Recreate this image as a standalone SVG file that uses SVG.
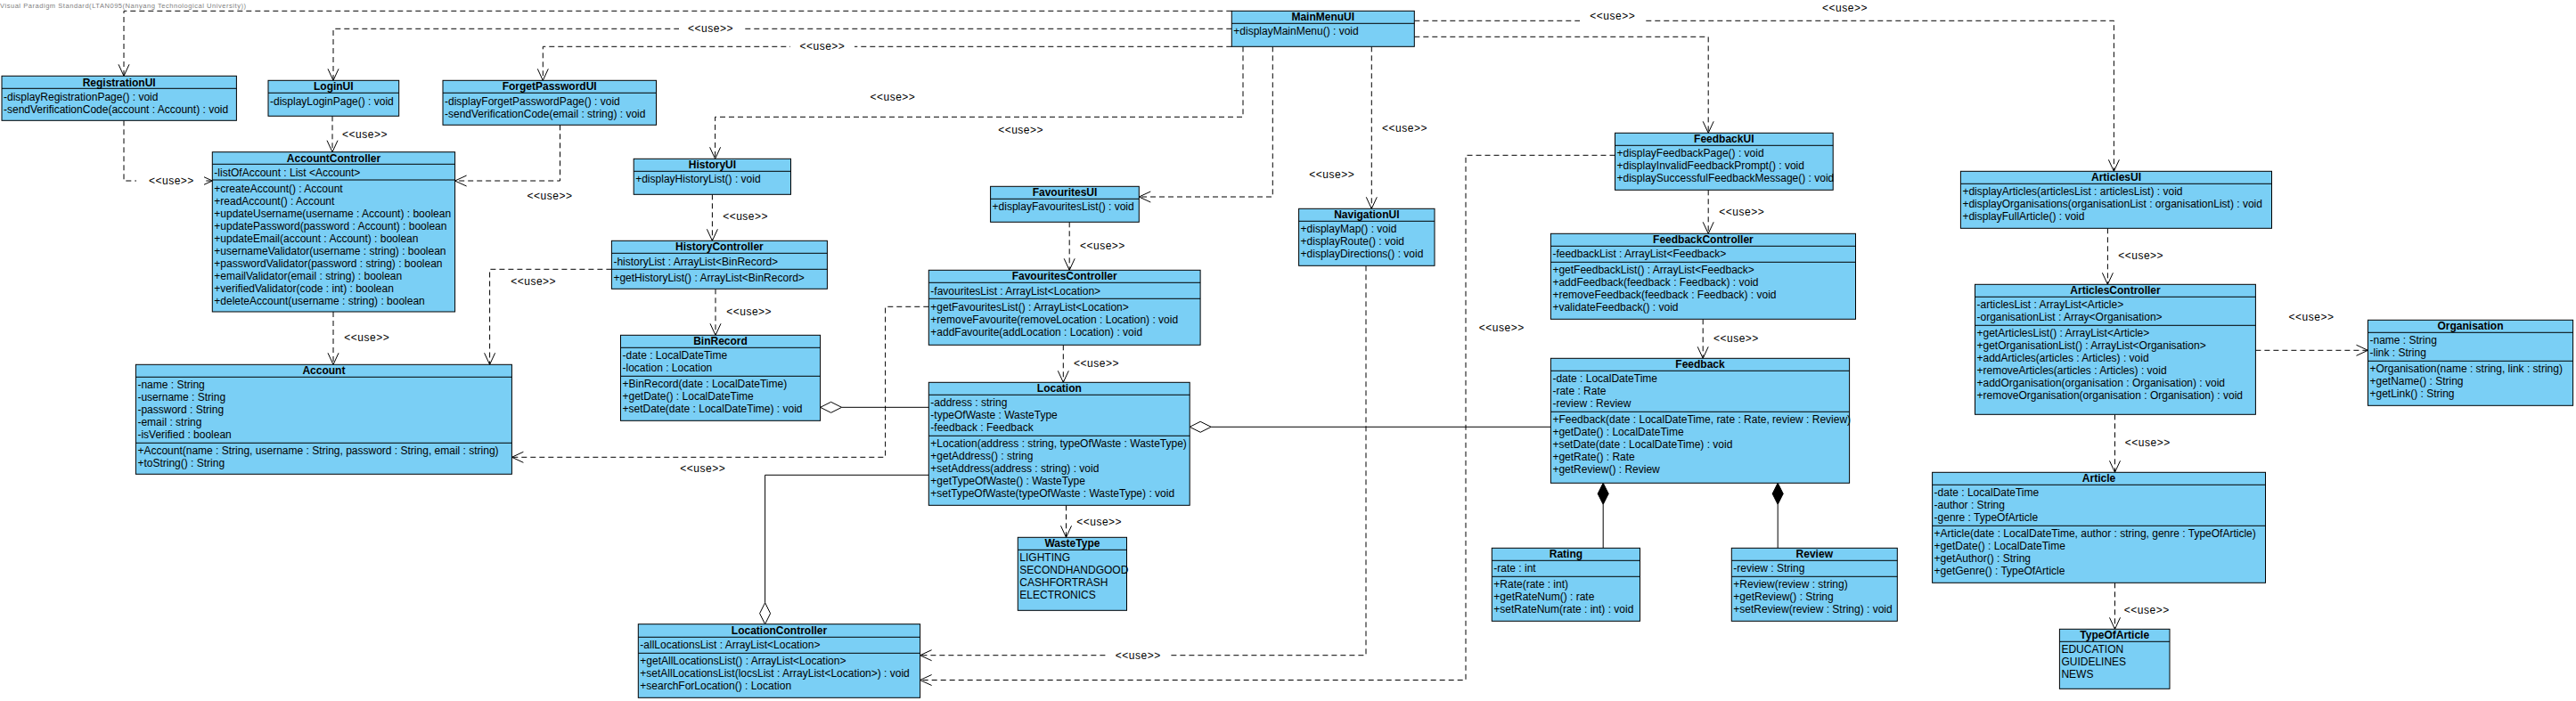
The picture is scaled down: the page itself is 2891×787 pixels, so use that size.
<svg xmlns="http://www.w3.org/2000/svg" width="2891" height="787" viewBox="0 0 2891 787">
<style>
.bg{fill:#ffffff}
.box{fill:#7acff5;stroke:#000;stroke-width:1}
.sep{fill:none;stroke:#000;stroke-width:1}
.t{font-family:"Liberation Sans",Arial,sans-serif;font-size:12px;fill:#000}
.ti{font-weight:bold;text-anchor:middle}
.dep{fill:none;stroke:#000;stroke-width:1;stroke-dasharray:6,4;marker-end:url(#arr)}
.sol{fill:none;stroke:#000;stroke-width:1}
.agg{fill:#fff;stroke:#000;stroke-width:1}
.comp{fill:#000;stroke:#000;stroke-width:1}
.lbl{text-anchor:middle;letter-spacing:0.5px}
.gap{fill:#fff}
.wm{font-family:"Liberation Sans",Arial,sans-serif;font-size:7.5px;fill:#808080}
</style>
<defs>
<marker id="arr" markerUnits="userSpaceOnUse" markerWidth="16" markerHeight="16" viewBox="0 0 16 16" refX="14" refY="8" orient="auto">
<path d="M1,2 L14,8 L1,14" fill="none" stroke="#000" stroke-width="1"/>
</marker>
</defs>
<rect class="bg" x="0" y="0" width="2891" height="787"/>
<text class="wm" x="0" y="9" textLength="276" lengthAdjust="spacing">Visual Paradigm Standard(LTAN095(Nanyang Technological University))</text>

<g id="connectors">
<!-- MainMenuUI dependencies -->
<path class="dep" d="M1382.3,12.3 H139 V85.3"/>
<path class="dep" d="M1382.3,32.3 H374 V90.3"/>
<path class="dep" d="M1382.3,52.3 H609.3 V90.3"/>
<path class="dep" d="M1395,52.3 V131.3 H802.6 V178.3"/>
<path class="dep" d="M1428.3,52.3 V221 H1278.3"/>
<path class="dep" d="M1539.3,52.3 V234.3"/>
<path class="dep" d="M1587.3,41.3 H1917.2 V149.3"/>
<path class="dep" d="M1587.3,23.3 H2372.4 V192.3"/>
<!-- account -->
<path class="dep" d="M139,135.3 V203 H238.3"/>
<path class="dep" d="M373,130.3 V170.7"/>
<path class="dep" d="M628.5,140.3 V203 H510.6"/>
<path class="dep" d="M374,350 V409.3"/>
<path class="dep" d="M686.4,302.3 H549.6 V409.3"/>
<!-- history -->
<path class="dep" d="M799.4,218.3 V270.3"/>
<path class="dep" d="M803,324.3 V376.3"/>
<!-- favourites -->
<path class="dep" d="M1200.2,249.3 V303.3"/>
<path class="dep" d="M1042.3,344.3 H993.6 V513.3 H574.4"/>
<path class="dep" d="M1193.3,387.3 V429.3"/>
<path class="dep" d="M1196.5,567.3 V603.3"/>
<!-- navigation / feedback to location controller -->
<path class="dep" d="M1533,298.3 V735.7 H1032.6"/>
<path class="dep" d="M1812.5,174.3 H1645 V763.5 H1032.6"/>
<!-- feedback -->
<path class="dep" d="M1917.2,213.3 V262.3"/>
<path class="dep" d="M1911.2,358.3 V402.3"/>
<!-- articles -->
<path class="dep" d="M2365.4,256.3 V319.3"/>
<path class="dep" d="M2531.4,393.3 H2657.5"/>
<path class="dep" d="M2373.5,465.3 V530.3"/>
<path class="dep" d="M2373.5,654.3 V706.3"/>
<!-- aggregations -->
<path class="sol" d="M944.6,457.3 H1042.3"/>
<polygon class="agg" points="920.6,457.3 932.6,451.3 944.6,457.3 932.6,463.3"/>
<path class="sol" d="M858.6,676.7 V533.3 H1042.3"/>
<polygon class="agg" points="858.6,700.7 852.6,688.7 858.6,676.7 864.6,688.7"/>
<path class="sol" d="M1359.2,479.3 H1740.4"/>
<polygon class="agg" points="1335.2,479.3 1347.2,473.3 1359.2,479.3 1347.2,485.3"/>
<!-- compositions -->
<path class="sol" d="M1799.2,566.3 V615.3"/>
<polygon class="comp" points="1799.2,542.3 1805.2,554.3 1799.2,566.3 1793.2,554.3"/>
<path class="sol" d="M1995.2,566.3 V615.3"/>
<polygon class="comp" points="1995.2,542.3 2001.2,554.3 1995.2,566.3 1989.2,554.3"/>
<!-- label gaps -->
<rect class="gap" x="762" y="25" width="72" height="14"/>
<rect class="gap" x="887" y="45" width="72" height="14"/>
<rect class="gap" x="1773" y="11" width="73" height="14"/>
<rect class="gap" x="153" y="196" width="76" height="14"/>
<rect class="gap" x="1241" y="729" width="72" height="14"/>
<!-- labels -->
<text class="t lbl" x="797.5" y="36.3">&lt;&lt;use&gt;&gt;</text>
<text class="t lbl" x="922.9" y="56.3">&lt;&lt;use&gt;&gt;</text>
<text class="t lbl" x="1001.9" y="113.3">&lt;&lt;use&gt;&gt;</text>
<text class="t lbl" x="1145.6" y="149.7">&lt;&lt;use&gt;&gt;</text>
<text class="t lbl" x="1494.8" y="199.7">&lt;&lt;use&gt;&gt;</text>
<text class="t lbl" x="1576.5" y="147.7">&lt;&lt;use&gt;&gt;</text>
<text class="t lbl" x="1809.8" y="21.7">&lt;&lt;use&gt;&gt;</text>
<text class="t lbl" x="2070.5" y="13.3">&lt;&lt;use&gt;&gt;</text>
<text class="t lbl" x="192.4" y="207">&lt;&lt;use&gt;&gt;</text>
<text class="t lbl" x="409.5" y="154.7">&lt;&lt;use&gt;&gt;</text>
<text class="t lbl" x="617" y="224">&lt;&lt;use&gt;&gt;</text>
<text class="t lbl" x="411.8" y="383.3">&lt;&lt;use&gt;&gt;</text>
<text class="t lbl" x="598.7" y="320.3">&lt;&lt;use&gt;&gt;</text>
<text class="t lbl" x="836.6" y="247.3">&lt;&lt;use&gt;&gt;</text>
<text class="t lbl" x="840.7" y="354.3">&lt;&lt;use&gt;&gt;</text>
<text class="t lbl" x="1237.4" y="280.3">&lt;&lt;use&gt;&gt;</text>
<text class="t lbl" x="788.8" y="529.7">&lt;&lt;use&gt;&gt;</text>
<text class="t lbl" x="1230.5" y="412.3">&lt;&lt;use&gt;&gt;</text>
<text class="t lbl" x="1233.7" y="589.7">&lt;&lt;use&gt;&gt;</text>
<text class="t lbl" x="1277.3" y="739.7">&lt;&lt;use&gt;&gt;</text>
<text class="t lbl" x="1685.3" y="372.3">&lt;&lt;use&gt;&gt;</text>
<text class="t lbl" x="1954.8" y="242.3">&lt;&lt;use&gt;&gt;</text>
<text class="t lbl" x="1948.4" y="383.7">&lt;&lt;use&gt;&gt;</text>
<text class="t lbl" x="2402.7" y="291.3">&lt;&lt;use&gt;&gt;</text>
<text class="t lbl" x="2594" y="359.7">&lt;&lt;use&gt;&gt;</text>
<text class="t lbl" x="2410.3" y="501.3">&lt;&lt;use&gt;&gt;</text>
<text class="t lbl" x="2409.3" y="689.3">&lt;&lt;use&gt;&gt;</text>
</g>

<g id="RegistrationUI">
<rect class="box" x="2" y="85.3" width="263.4" height="50"/>
<path class="sep" d="M2,99.3 H265.4"/>
<text class="t ti" x="133.7" y="96.5">RegistrationUI</text>
<text class="t" x="4" y="112.5">-displayRegistrationPage() : void</text>
<text class="t" x="4" y="126.5">-sendVerificationCode(account : Account) : void</text>
</g>

<g id="LoginUI">
<rect class="box" x="301" y="90.3" width="146.7" height="40"/>
<path class="sep" d="M301,104.3 H447.7"/>
<text class="t ti" x="374.3" y="101.3">LoginUI</text>
<text class="t" x="303" y="117.5">-displayLoginPage() : void</text>
</g>

<g id="ForgetPasswordUI">
<rect class="box" x="497" y="90.3" width="239.5" height="50"/>
<path class="sep" d="M497,104.3 H736.5"/>
<text class="t ti" x="616.7" y="101.3">ForgetPasswordUI</text>
<text class="t" x="499" y="117.5">-displayForgetPasswordPage() : void</text>
<text class="t" x="499" y="131.5">-sendVerificationCode(email : string) : void</text>
</g>

<g id="MainMenuUI">
<rect class="box" x="1382.3" y="12.3" width="205" height="40"/>
<path class="sep" d="M1382.3,26.3 H1587.3"/>
<text class="t ti" x="1484.8" y="23.3">MainMenuUI</text>
<text class="t" x="1384.3" y="39.3">+displayMainMenu() : void</text>
</g>

<g id="AccountController">
<rect class="box" x="238.3" y="170.7" width="272.3" height="179.3"/>
<path class="sep" d="M238.3,184.3 H510.6 M238.3,202 H510.6"/>
<text class="t ti" x="374.5" y="181.7">AccountController</text>
<text class="t" x="240.3" y="197.5">-listOfAccount : List &lt;Account&gt;</text>
<text class="t" x="240.3" y="215.5">+createAccount() : Account</text>
<text class="t" x="240.3" y="229.5">+readAccount() : Account</text>
<text class="t" x="240.3" y="243.5">+updateUsername(username : Account) : boolean</text>
<text class="t" x="240.3" y="257.5">+updatePassword(password : Account) : boolean</text>
<text class="t" x="240.3" y="271.5">+updateEmail(account : Account) : boolean</text>
<text class="t" x="240.3" y="285.5">+usernameValidator(username : string) : boolean</text>
<text class="t" x="240.3" y="299.5">+passwordValidator(password : string) : boolean</text>
<text class="t" x="240.3" y="313.5">+emailValidator(email : string) : boolean</text>
<text class="t" x="240.3" y="327.5">+verifiedValidator(code : int) : boolean</text>
<text class="t" x="240.3" y="341.5">+deleteAccount(username : string) : boolean</text>
</g>

<g id="Account">
<rect class="box" x="152.4" y="409.3" width="422" height="123"/>
<path class="sep" d="M152.4,423.3 H574.4 M152.4,497.3 H574.4"/>
<text class="t ti" x="363.4" y="420.3">Account</text>
<text class="t" x="154.4" y="436.3">-name : String</text>
<text class="t" x="154.4" y="450.3">-username : String</text>
<text class="t" x="154.4" y="464.3">-password : String</text>
<text class="t" x="154.4" y="478.3">-email : string</text>
<text class="t" x="154.4" y="492.3">-isVerified : boolean</text>
<text class="t" x="154.4" y="510.3">+Account(name : String, username : String, password : String, email : string)</text>
<text class="t" x="154.4" y="524.3">+toString() : String</text>
</g>

<g id="HistoryUI">
<rect class="box" x="711.2" y="178.3" width="176.3" height="40"/>
<path class="sep" d="M711.2,192.3 H887.5"/>
<text class="t ti" x="799.4" y="189.3">HistoryUI</text>
<text class="t" x="713.2" y="205.3">+displayHistoryList() : void</text>
</g>

<g id="HistoryController">
<rect class="box" x="686.4" y="270.3" width="242" height="54"/>
<path class="sep" d="M686.4,284.3 H928.4 M686.4,302.3 H928.4"/>
<text class="t ti" x="807.4" y="281.3">HistoryController</text>
<text class="t" x="688.4" y="297.5">-historyList : ArrayList&lt;BinRecord&gt;</text>
<text class="t" x="688.4" y="315.5">+getHistoryList() : ArrayList&lt;BinRecord&gt;</text>
</g>

<g id="BinRecord">
<rect class="box" x="696.5" y="376.3" width="224.1" height="96"/>
<path class="sep" d="M696.5,390.3 H920.6 M696.5,422.3 H920.6"/>
<text class="t ti" x="808.5" y="387.3">BinRecord</text>
<text class="t" x="698.5" y="403.3">-date : LocalDateTime</text>
<text class="t" x="698.5" y="417.3">-location : Location</text>
<text class="t" x="698.5" y="435.3">+BinRecord(date : LocalDateTime)</text>
<text class="t" x="698.5" y="449.3">+getDate() : LocalDateTime</text>
<text class="t" x="698.5" y="463.3">+setDate(date : LocalDateTime) : void</text>
</g>

<g id="FavouritesUI">
<rect class="box" x="1111.6" y="209.3" width="166.7" height="40"/>
<path class="sep" d="M1111.6,223.3 H1278.3"/>
<text class="t ti" x="1195" y="220.3">FavouritesUI</text>
<text class="t" x="1113.6" y="236.3">+displayFavouritesList() : void</text>
</g>

<g id="FavouritesController">
<rect class="box" x="1042.3" y="303.3" width="304.8" height="84"/>
<path class="sep" d="M1042.3,317.3 H1347.1 M1042.3,335.3 H1347.1"/>
<text class="t ti" x="1194.7" y="314.3">FavouritesController</text>
<text class="t" x="1044.3" y="330.5">-favouritesList : ArrayList&lt;Location&gt;</text>
<text class="t" x="1044.3" y="348.5">+getFavouritesList() : ArrayList&lt;Location&gt;</text>
<text class="t" x="1044.3" y="362.5">+removeFavourite(removeLocation : Location) : void</text>
<text class="t" x="1044.3" y="376.5">+addFavourite(addLocation : Location) : void</text>
</g>

<g id="Location">
<rect class="box" x="1042.3" y="429.3" width="292.9" height="138"/>
<path class="sep" d="M1042.3,443.3 H1335.2 M1042.3,489.3 H1335.2"/>
<text class="t ti" x="1188.8" y="440.3">Location</text>
<text class="t" x="1044.3" y="456.3">-address : string</text>
<text class="t" x="1044.3" y="470.3">-typeOfWaste : WasteType</text>
<text class="t" x="1044.3" y="484.3">-feedback : Feedback</text>
<text class="t" x="1044.3" y="502.3">+Location(address : string, typeOfWaste : WasteType)</text>
<text class="t" x="1044.3" y="516.3">+getAddress() : string</text>
<text class="t" x="1044.3" y="530.3">+setAddress(address : string) : void</text>
<text class="t" x="1044.3" y="544.3">+getTypeOfWaste() : WasteType</text>
<text class="t" x="1044.3" y="558.3">+setTypeOfWaste(typeOfWaste : WasteType) : void</text>
</g>

<g id="WasteType">
<rect class="box" x="1142.3" y="603.3" width="122.2" height="82"/>
<path class="sep" d="M1142.3,617.3 H1264.5"/>
<text class="t ti" x="1203.4" y="614.3">WasteType</text>
<text class="t" x="1144.3" y="630.3">LIGHTING</text>
<text class="t" x="1144.3" y="644.3">SECONDHANDGOOD</text>
<text class="t" x="1144.3" y="658.3">CASHFORTRASH</text>
<text class="t" x="1144.3" y="672.3">ELECTRONICS</text>
</g>

<g id="LocationController">
<rect class="box" x="716.3" y="700.7" width="316.3" height="82.6"/>
<path class="sep" d="M716.3,715.3 H1032.6 M716.3,733.3 H1032.6"/>
<text class="t ti" x="874.5" y="711.7">LocationController</text>
<text class="t" x="718.3" y="728.3">-allLocationsList : ArrayList&lt;Location&gt;</text>
<text class="t" x="718.3" y="746.3">+getAllLocationsList() : ArrayList&lt;Location&gt;</text>
<text class="t" x="718.3" y="760.3">+setAllLocationsList(locsList : ArrayList&lt;Location&gt;) : void</text>
<text class="t" x="718.3" y="774.3">+searchForLocation() : Location</text>
</g>

<g id="NavigationUI">
<rect class="box" x="1457.6" y="234.3" width="152.4" height="64"/>
<path class="sep" d="M1457.6,248.3 H1610"/>
<text class="t ti" x="1533.8" y="245.3">NavigationUI</text>
<text class="t" x="1459.6" y="261.3">+displayMap() : void</text>
<text class="t" x="1459.6" y="275.3">+displayRoute() : void</text>
<text class="t" x="1459.6" y="289.3">+displayDirections() : void</text>
</g>

<g id="FeedbackUI">
<rect class="box" x="1812.5" y="149.3" width="244.7" height="64"/>
<path class="sep" d="M1812.5,163.3 H2057.2"/>
<text class="t ti" x="1934.8" y="160.3">FeedbackUI</text>
<text class="t" x="1814.5" y="176.3">+displayFeedbackPage() : void</text>
<text class="t" x="1814.5" y="190.3">+displayInvalidFeedbackPrompt() : void</text>
<text class="t" x="1814.5" y="204.3">+displaySuccessfulFeedbackMessage() : void</text>
</g>

<g id="FeedbackController">
<rect class="box" x="1740.4" y="262.3" width="342.1" height="96"/>
<path class="sep" d="M1740.4,276.3 H2082.5 M1740.4,294.3 H2082.5"/>
<text class="t ti" x="1911.4" y="273.3">FeedbackController</text>
<text class="t" x="1742.4" y="289.3">-feedbackList : ArrayList&lt;Feedback&gt;</text>
<text class="t" x="1742.4" y="307.3">+getFeedbackList() : ArrayList&lt;Feedback&gt;</text>
<text class="t" x="1742.4" y="321.3">+addFeedback(feedback : Feedback) : void</text>
<text class="t" x="1742.4" y="335.3">+removeFeedback(feedback : Feedback) : void</text>
<text class="t" x="1742.4" y="349.3">+validateFeedback() : void</text>
</g>

<g id="Feedback">
<rect class="box" x="1740.4" y="402.3" width="335.2" height="140"/>
<path class="sep" d="M1740.4,416.3 H2075.6 M1740.4,462.3 H2075.6"/>
<text class="t ti" x="1908" y="413.3">Feedback</text>
<text class="t" x="1742.4" y="429.3">-date : LocalDateTime</text>
<text class="t" x="1742.4" y="443.3">-rate : Rate</text>
<text class="t" x="1742.4" y="457.3">-review : Review</text>
<text class="t" x="1742.4" y="475.3">+Feedback(date : LocalDateTime, rate : Rate, review : Review)</text>
<text class="t" x="1742.4" y="489.3">+getDate() : LocalDateTime</text>
<text class="t" x="1742.4" y="503.3">+setDate(date : LocalDateTime) : void</text>
<text class="t" x="1742.4" y="517.3">+getRate() : Rate</text>
<text class="t" x="1742.4" y="531.3">+getReview() : Review</text>
</g>

<g id="Rating">
<rect class="box" x="1674.3" y="615.3" width="166.2" height="82"/>
<path class="sep" d="M1674.3,629.3 H1840.5 M1674.3,647.3 H1840.5"/>
<text class="t ti" x="1757.4" y="626.3">Rating</text>
<text class="t" x="1676.3" y="642.3">-rate : int</text>
<text class="t" x="1676.3" y="660.3">+Rate(rate : int)</text>
<text class="t" x="1676.3" y="674.3">+getRateNum() : rate</text>
<text class="t" x="1676.3" y="688.3">+setRateNum(rate : int) : void</text>
</g>

<g id="Review">
<rect class="box" x="1943.3" y="615.3" width="186" height="82"/>
<path class="sep" d="M1943.3,629.3 H2129.3 M1943.3,647.3 H2129.3"/>
<text class="t ti" x="2036.3" y="626.3">Review</text>
<text class="t" x="1945.3" y="642.3">-review : String</text>
<text class="t" x="1945.3" y="660.3">+Review(review : string)</text>
<text class="t" x="1945.3" y="674.3">+getReview() : String</text>
<text class="t" x="1945.3" y="688.3">+setReview(review : String) : void</text>
</g>

<g id="ArticlesUI">
<rect class="box" x="2200.4" y="192.3" width="349.1" height="64"/>
<path class="sep" d="M2200.4,206.3 H2549.5"/>
<text class="t ti" x="2375" y="203.3">ArticlesUI</text>
<text class="t" x="2202.4" y="219.3">+displayArticles(articlesList : articlesList) : void</text>
<text class="t" x="2202.4" y="233.3">+displayOrganisations(organisationList : organisationList) : void</text>
<text class="t" x="2202.4" y="247.3">+displayFullArticle() : void</text>
</g>

<g id="ArticlesController">
<rect class="box" x="2216.5" y="319.3" width="314.9" height="146"/>
<path class="sep" d="M2216.5,333.3 H2531.4 M2216.5,365.3 H2531.4"/>
<text class="t ti" x="2374" y="330.3">ArticlesController</text>
<text class="t" x="2218.5" y="346.3">-articlesList : ArrayList&lt;Article&gt;</text>
<text class="t" x="2218.5" y="360.3">-organisationList : Array&lt;Organisation&gt;</text>
<text class="t" x="2218.5" y="378.3">+getArticlesList() : ArrayList&lt;Article&gt;</text>
<text class="t" x="2218.5" y="392.3">+getOrganisationList() : ArrayList&lt;Organisation&gt;</text>
<text class="t" x="2218.5" y="406.3">+addArticles(articles : Articles) : void</text>
<text class="t" x="2218.5" y="420.3">+removeArticles(articles : Articles) : void</text>
<text class="t" x="2218.5" y="434.3">+addOrganisation(organisation : Organisation) : void</text>
<text class="t" x="2218.5" y="448.3">+removeOrganisation(organisation : Organisation) : void</text>
</g>

<g id="Organisation">
<rect class="box" x="2657.5" y="359.3" width="230.1" height="96"/>
<path class="sep" d="M2657.5,373.3 H2887.6 M2657.5,405.3 H2887.6"/>
<text class="t ti" x="2772.5" y="370.3">Organisation</text>
<text class="t" x="2659.5" y="386.3">-name : String</text>
<text class="t" x="2659.5" y="400.3">-link : String</text>
<text class="t" x="2659.5" y="418.3">+Organisation(name : string, link : string)</text>
<text class="t" x="2659.5" y="432.3">+getName() : String</text>
<text class="t" x="2659.5" y="446.3">+getLink() : String</text>
</g>

<g id="Article">
<rect class="box" x="2168.6" y="530.3" width="373.9" height="124"/>
<path class="sep" d="M2168.6,544.3 H2542.5 M2168.6,590.3 H2542.5"/>
<text class="t ti" x="2355.5" y="541.3">Article</text>
<text class="t" x="2170.6" y="557.3">-date : LocalDateTime</text>
<text class="t" x="2170.6" y="571.3">-author : String</text>
<text class="t" x="2170.6" y="585.3">-genre : TypeOfArticle</text>
<text class="t" x="2170.6" y="603.3">+Article(date : LocalDateTime, author : string, genre : TypeOfArticle)</text>
<text class="t" x="2170.6" y="617.3">+getDate() : LocalDateTime</text>
<text class="t" x="2170.6" y="631.3">+getAuthor() : String</text>
<text class="t" x="2170.6" y="645.3">+getGenre() : TypeOfArticle</text>
</g>

<g id="TypeOfArticle">
<rect class="box" x="2311.4" y="706.3" width="123.6" height="67"/>
<path class="sep" d="M2311.4,720.3 H2435"/>
<text class="t ti" x="2373.2" y="717.3">TypeOfArticle</text>
<text class="t" x="2313.4" y="733.3">EDUCATION</text>
<text class="t" x="2313.4" y="747.3">GUIDELINES</text>
<text class="t" x="2313.4" y="761.3">NEWS</text>
</g>
</svg>
